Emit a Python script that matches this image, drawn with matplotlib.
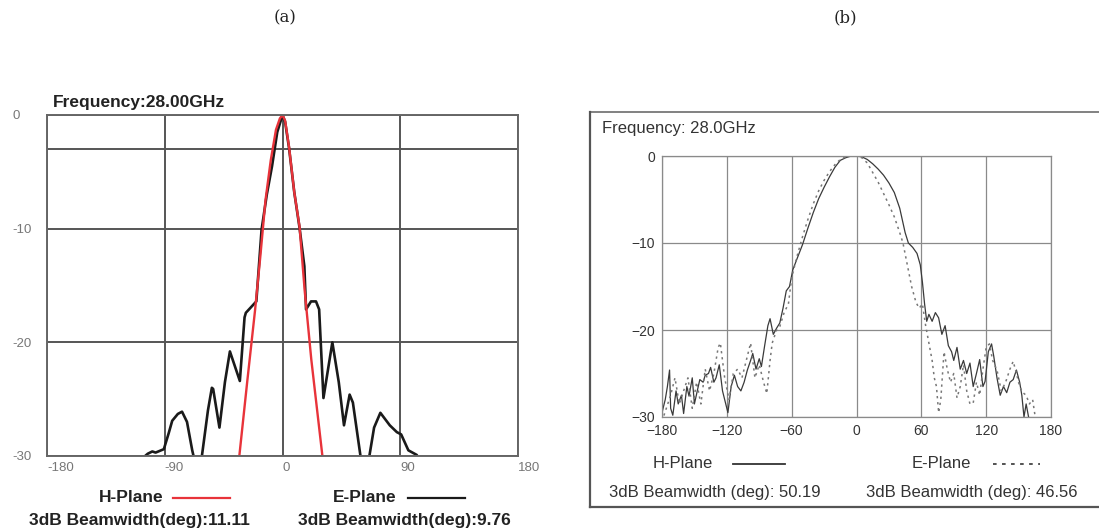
import numpy as np
import matplotlib
matplotlib.use("Agg")
import matplotlib.pyplot as plt
from matplotlib.lines import Line2D

W, H = 1099, 531

# ---- (a) data: angle (deg), gain (dB)
a_e_ang = [-110, -103, -99.5, -97, -90.7, -87, -84.3, -80, -76.8, -73, -69, -65, -61.6, -57, -54, -53,
           -48.2, -44, -40.2, -32.6, -29, -28, -20, -16, -12, -8, -4, 0, 2, 5, 9, 13, 16.7, 18, 21.8,
           25.6, 28, 31.3, 38.1, 43, 47, 51.3, 53.8, 59.6, 63, 66.4, 70, 74.8, 82, 87.4, 90.7, 96.2,
           102.5, 106]
a_e_db = [-30.5, -29.8, -29.6, -29.7, -29.4, -28.0, -26.9, -26.3, -26.1, -27.0, -29.5, -31.5, -30.0, -26.0,
          -24.0, -24.1, -27.5, -23.5, -20.8, -23.4, -17.8, -17.4, -16.4, -10.1, -7.0, -4.5, -1.5, 0, -0.6,
          -2.9, -6.8, -9.9, -13.3, -17.1, -16.4, -16.4, -17.1, -24.9, -20.0, -23.5, -27.3, -24.6, -25.3, -30.0,
          -31.5, -30.0, -27.5, -26.2, -27.3, -27.9, -28.1, -29.5, -29.9, -30.5]
a_h_ang = [-33, -27, -21, -17, -13, -9, -5, -2, 0, 2, 5, 9, 13, 17, 22, 27, 30.5]
a_h_db = [-30, -23.5, -17.2, -12.5, -7.5, -4.0, -1.3, -0.3, 0, -0.5, -2.8, -6.8, -9.8, -15.5, -21.5, -26.5, -30]

# ---- (b) data
b_h_ang = [-180, -177, -175, -173, -172, -170, -167, -165, -162, -160, -157, -155, -152, -150, -147, -145,
           -142, -140, -137, -135, -132, -130, -127, -124, -121, -119, -116, -113, -110, -107, -104, -101,
           -98, -96, -93, -90, -88, -85, -82, -80, -77, -74, -71, -68, -65, -62, -59, -55, -50, -45, -40,
           -35, -30, -25, -20, -15, -10, -5, 0, 5, 10, 15, 20, 25, 30, 35, 40, 45, 48, 52, 56, 59, 61, 63,
           65, 67, 70, 73, 76, 79, 82, 85, 88, 90, 93, 96, 99, 102, 105, 108, 111, 114, 117, 119, 122, 125,
           127, 130, 133, 136, 139, 142, 145, 148, 151, 153, 155, 157, 160]
b_h_db = [-29.5, -28.0, -26.5, -24.6, -29.0, -29.8, -27.0, -28.5, -27.5, -29.6, -26.5, -27.6, -25.5, -28.5,
          -26.8, -25.7, -26.0, -25.2, -25.0, -24.3, -26.0, -25.5, -24.0, -27.0, -28.5, -29.5, -26.5, -25.2,
          -26.5, -27.0, -26.0, -24.6, -23.5, -22.7, -24.5, -23.3, -24.2, -21.8, -19.5, -18.7, -20.5, -19.8,
          -19.2, -17.5, -15.5, -15.0, -13.1, -11.8, -10.2, -8.3, -6.5, -4.9, -3.6, -2.4, -1.3, -0.5, -0.2,
          0, 0, -0.1, -0.4, -0.9, -1.5, -2.2, -3.1, -4.2, -6.0, -8.8, -10.0, -10.5, -11.2, -12.5, -14.5,
          -17.0, -19.0, -18.2, -19.0, -18.0, -18.6, -20.5, -19.5, -21.8, -22.5, -23.5, -22.0, -24.5, -23.5,
          -25.0, -23.8, -26.5, -25.0, -23.4, -26.5, -25.9, -22.5, -21.6, -23.0, -25.5, -27.5, -26.5, -27.2,
          -26.0, -25.7, -24.6, -26.0, -27.5, -30.0, -28.5, -30.5]
b_e_ang = [-180, -176, -172, -168, -164, -160, -156, -152, -148, -144, -140, -136, -132, -128, -126, -122,
           -118, -114, -110, -106, -102, -98, -94, -90, -86, -83, -80, -78, -74, -71, -67, -63, -60, -55,
           -50, -45, -40, -35, -30, -25, -20, -15, -10, -5, 0, 5, 10, 15, 20, 25, 30, 35, 40, 43, 47, 51,
           55, 58, 61, 64, 67, 70, 72, 74, 76, 78, 81, 84, 87, 90, 93, 96, 99, 102, 105, 108, 111, 114,
           117, 120, 123, 126, 130, 134, 138, 142, 145, 148, 151, 154, 157, 160, 163, 166]
b_e_db = [-30.5, -29.0, -27.5, -25.5, -28.5, -27.0, -25.5, -29.0, -26.0, -28.5, -24.5, -27.0, -25.0, -22.0,
          -21.5, -25.5, -28.0, -25.0, -24.5, -25.5, -23.5, -21.5, -25.5, -24.0, -26.0, -27.3, -23.5, -21.5,
          -20.0, -19.6, -18.0, -17.0, -14.0, -11.5, -9.3, -7.3, -5.5, -4.0, -2.8, -1.8, -1.0, -0.4, -0.1,
          0, 0, -0.2, -0.8, -1.9, -3.0, -4.3, -5.6, -7.0, -8.8, -10.0, -12.5, -15.0, -16.8, -17.5, -17.0,
          -19.5, -21.5, -23.5, -25.5, -26.5, -29.5, -28.0, -22.5, -24.5, -26.0, -25.0, -27.8, -26.5, -24.0,
          -27.0, -28.5, -28.4, -26.0, -27.5, -24.5, -22.0, -21.6, -23.5, -24.6, -27.0, -26.0, -24.5, -23.6,
          -25.0, -26.5, -27.2, -27.5, -28.5, -28.0, -30.5]

a_xticks = [-180, -90, 0, 90, 180]
a_yticks = [0, -10, -20, -30]
b_xticks = [-180, -120, -60, 0, 60, 120, 180]
b_yticks = [0, -10, -20, -30]


def fx(x):
    return x / W


def fy(y):
    return 1 - y / H


fig = plt.figure(figsize=(W / 100, H / 100), dpi=100)
fig.patch.set_facecolor("white")

# panel titles
fig.text(fx(285), fy(18), "(a)", family="DejaVu Serif", fontsize=12, ha="center", va="center", color="#222")
fig.text(fx(845), fy(18), "(b)", family="DejaVu Serif", fontsize=12, ha="center", va="center", color="#222")

# ---------------- (a)
ax = fig.add_axes([fx(47), fy(456), (518 - 47) / W, (456 - 115) / H])
ax.plot(a_e_ang, a_e_db, color="#1a1a1a", lw=1.9, clip_on=True)
ax.plot(a_h_ang, a_h_db, color="#e8333a", lw=1.7)
ax.set_xlim(-180, 180)
ax.set_ylim(-30, 0)
ax.set_xticks(a_xticks)
ax.set_xticklabels([str(t) for t in a_xticks])
ax.set_yticks(a_yticks)
ax.set_yticklabels([str(t) for t in a_yticks])
for t in a_xticks:
    ax.axvline(t, color="#555", lw=1.4, zorder=0)
for t in a_yticks + [-3]:
    ax.axhline(t, color="#555", lw=1.4, zorder=0)
for s in ax.spines.values():
    s.set_color("#666")
    s.set_linewidth(1.4)
ax.tick_params(length=0, labelsize=9.5, colors="#777")
ax.tick_params(axis="y", pad=25)
ax.tick_params(axis="x", pad=4)
for lb in ax.get_yticklabels():
    lb.set_ha("left")
for lb in ax.get_xticklabels():
    lb.set_ha("left")

bold = dict(fontweight="bold", family="Liberation Sans", color="#222", va="center")
fig.text(fx(53), fy(102), "Frequency:28.00GHz", fontsize=12.5, ha="left", **bold)
fig.text(fx(163), fy(497), "H-Plane", fontsize=12.5, ha="right", **bold)
fig.add_artist(Line2D([fx(173), fx(230)], [fy(498), fy(498)], color="#e8333a", lw=1.6))
fig.text(fx(29), fy(520), "3dB Beamwidth(deg):11.11", fontsize=12.5, ha="left", **bold)
fig.text(fx(397), fy(497), "E-Plane", fontsize=12.5, ha="right", **bold)
fig.add_artist(Line2D([fx(408), fx(465)], [fy(498), fy(498)], color="#1a1a1a", lw=1.6))
fig.text(fx(298), fy(520), "3dB Beamwidth(deg):9.76", fontsize=12.5, ha="left", **bold)

# ---------------- (b)
# outer frame
frame_col = "#555"
fig.add_artist(Line2D([fx(590), fx(1099)], [fy(112), fy(112)], color="#777", lw=1.3))
fig.add_artist(Line2D([fx(590), fx(1099)], [fy(507), fy(507)], color=frame_col, lw=1.6))
fig.add_artist(Line2D([fx(590), fx(590)], [fy(112), fy(507)], color=frame_col, lw=1.6))

bx = fig.add_axes([fx(662), fy(417), (1051 - 662) / W, (417 - 156) / H])
bx.plot(b_h_ang, b_h_db, color="#3a3a3a", lw=0.9)
bx.plot(b_e_ang, b_e_db, color="#777", lw=1.1, ls=(0, (1.5, 2.5)))
bx.set_xlim(-180, 180)
bx.set_ylim(-30, 0)
bx.set_xticks(b_xticks)
bx.set_xticklabels([str(t).replace("-", "\u2212") for t in b_xticks])
bx.set_yticks(b_yticks)
bx.set_yticklabels([str(t).replace("-", "\u2212") for t in b_yticks])
for t in b_xticks:
    bx.axvline(t, color="#8a8a8a", lw=0.9, zorder=0)
for t in b_yticks:
    bx.axhline(t, color="#8a8a8a", lw=0.9, zorder=0)
for s in bx.spines.values():
    s.set_color("#8a8a8a")
    s.set_linewidth(0.9)
bx.tick_params(length=0, labelsize=10, colors="#333", pad=5)
for lb in bx.get_xticklabels() + bx.get_yticklabels():
    lb.set_family("Liberation Sans")
for lb in ax.get_xticklabels() + ax.get_yticklabels():
    lb.set_family("Liberation Sans")

norm = dict(family="Liberation Sans", color="#333", va="center", ha="left")
fig.text(fx(602), fy(129), "Frequency: 28.0GHz", fontsize=12, **norm)
fig.text(fx(653), fy(463), "H-Plane", fontsize=12, **norm)
fig.add_artist(Line2D([fx(733), fx(785)], [fy(464), fy(464)], color="#333", lw=1.3))
fig.text(fx(912), fy(463), "E-Plane", fontsize=12, **norm)
fig.add_artist(Line2D([fx(993), fx(1040)], [fy(464), fy(464)], color="#444", lw=1.3, ls=(0, (2, 3))))
fig.text(fx(609), fy(492), "3dB Beamwidth (deg): 50.19", fontsize=12, **norm)
fig.text(fx(866), fy(492), "3dB Beamwidth (deg): 46.56", fontsize=12, **norm)

fig.savefig("out.png", dpi=100)
